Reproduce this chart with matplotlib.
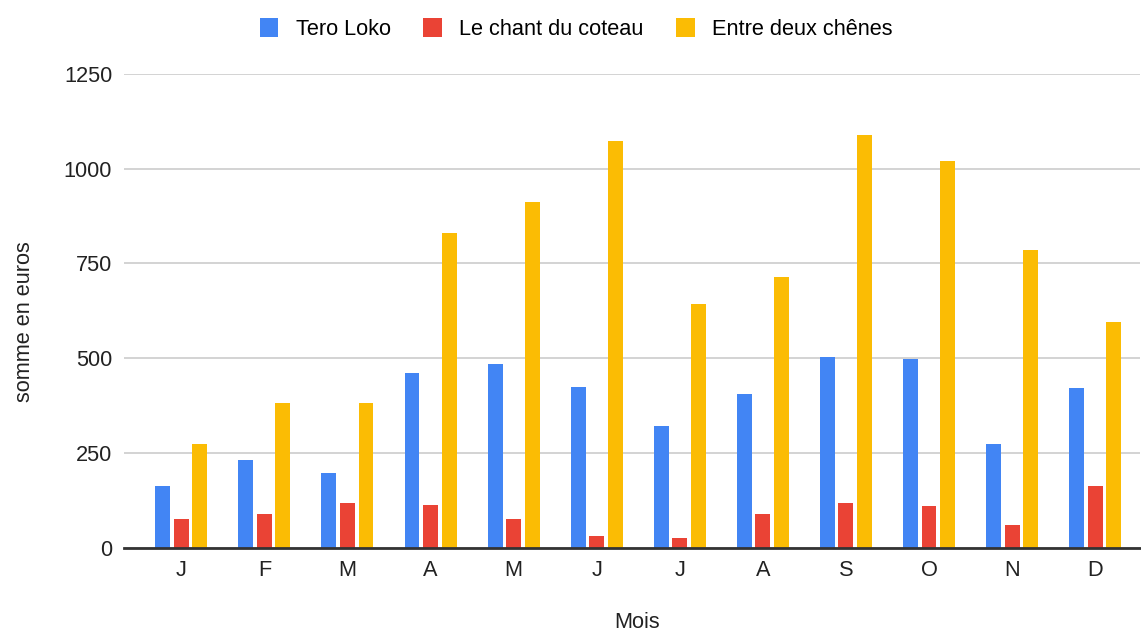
import numpy as np
import matplotlib.pyplot as plt

plt.rcParams['font.family'] = ['Liberation Sans', 'DejaVu Sans']

# Data
mois = ['J', 'F', 'M', 'A', 'M', 'J', 'J', 'A', 'S', 'O', 'N', 'D']
tero_loko = [163, 231, 196, 460, 484, 425, 322, 405, 503, 498, 273, 420]
chant_coteau = [75, 89, 118, 113, 75, 30, 24, 89, 118, 109, 60, 163]
deux_chenes = [274, 381, 381, 831, 913, 1073, 644, 713, 1089, 1020, 786, 596]

series = [
    ('Tero Loko', tero_loko, '#4285F4'),
    ('Le chant du coteau', chant_coteau, '#EA4335'),
    ('Entre deux chênes', deux_chenes, '#FBBC04'),
]

fs = 15.7
fig = plt.figure(figsize=(11.41, 6.33), dpi=100)
ax = fig.add_axes([124 / 1141, (633 - 547.5) / 633, (1140 - 124) / 1141, (547.5 - 74) / 633])

x = np.arange(len(mois))
width = 0.18
step = 0.223
for i, (name, vals, col) in enumerate(series):
    ax.bar(x + (i - 1) * step, vals, width, color=col, label=name, zorder=3)

ax.set_ylim(0, 1250)
ax.set_xlim(-0.69, 11.54)
ax.set_yticks([0, 250, 500, 750, 1000, 1250])
ax.set_xticks(x)
ax.set_xticklabels(mois)
ax.tick_params(axis='both', length=0, labelsize=fs, colors='#222222')
ax.tick_params(axis='y', pad=8.5)
ax.tick_params(axis='x', pad=9)

ax.grid(axis='y', color='#cccccc', linewidth=1.2, zorder=0)
for s in ['top', 'right', 'left']:
    ax.spines[s].set_visible(False)
ax.spines['bottom'].set_color('#333333')
ax.spines['bottom'].set_linewidth(2)
ax.spines['bottom'].set_zorder(4)

ax.set_xlabel('Mois', fontsize=fs, color='#222222', va='center')
ax.xaxis.set_label_coords(0.505, -0.158)
ax.set_ylabel('somme en euros', fontsize=fs, color='#222222', va='center')
ax.yaxis.set_label_coords(-0.098, 0.478)

fig.legend(loc='upper center', bbox_to_anchor=(0.505, 1.003), ncol=3, frameon=False,
           fontsize=fs, handlelength=0.85, handleheight=0.95, handletextpad=0.8,
           columnspacing=1.5)

fig.savefig('out.png', dpi=100)
